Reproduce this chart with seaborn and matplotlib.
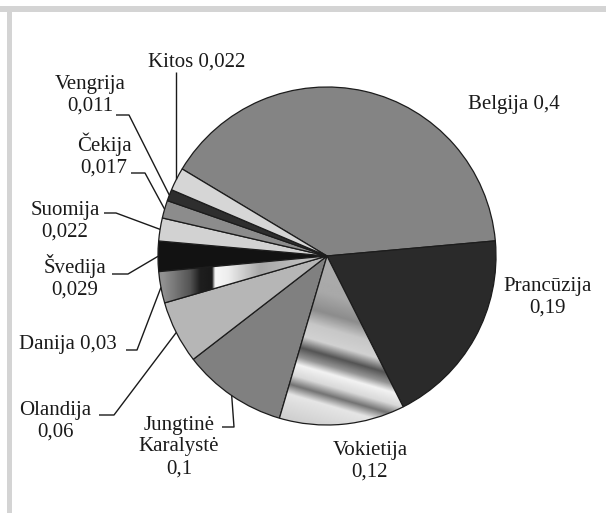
import numpy as np
import matplotlib
matplotlib.use("Agg")
import matplotlib.pyplot as plt
from matplotlib.patches import Rectangle
from matplotlib.colors import LinearSegmentedColormap
import seaborn as sns

# ---------------- data ----------------
countries = ["Belgija", "Prancūzija", "Vokietija", "Jungtinė\nKaralystė", "Olandija",
             "Danija", "Švedija", "Suomija", "Čekija", "Vengrija", "Kitos"]
values = [0.4, 0.19, 0.12, 0.1, 0.06, 0.03, 0.029, 0.022, 0.017, 0.011, 0.022]
value_labels = ["0,4", "0,19", "0,12", "0,1", "0,06", "0,03", "0,029", "0,022", "0,017", "0,011", "0,022"]
colors = ["#848484", "#2a2a2a", "#c4c4c4", "#808080", "#b6b6b6",
          "#909090", "#121212", "#d2d2d2", "#8c8c8c", "#2e2e2e", "#d6d6d6"]

# ---------------- layout ----------------
W, H = 606, 513
sns.set_theme(style="white")
plt.rcParams["font.family"] = ["Liberation Serif", "DejaVu Serif"]

fig = plt.figure(figsize=(W / 100, H / 100), dpi=100)
fig.patch.set_facecolor("white")
ax = fig.add_axes([0, 0, 1, 1])

def P(x, y):
    """image pixel coords -> data coords"""
    return x, H - y

CX, CY, R = 327, 256, 169
center = P(CX, CY)

wedges, _ = ax.pie(values, colors=colors, startangle=149, counterclock=False,
                   center=center, radius=R,
                   wedgeprops=dict(edgecolor="#1c1c1c", linewidth=0.9))
ax.set_xlim(0, W)
ax.set_ylim(0, H)
ax.set_aspect("equal")
ax.axis("off")

# ---- gradient fills (Vokietija, Danija) ----
def gradient_fill(wedge, img, extent):
    cmap = LinearSegmentedColormap.from_list("g", ["#000000", "#ffffff"])
    im = ax.imshow(img, cmap=cmap, vmin=0, vmax=1, extent=extent, origin="upper",
                   interpolation="bilinear", zorder=1.5, aspect="auto")
    im.set_clip_path(wedge)
    wedge.set_facecolor("none")
    wedge.set_zorder(2)

# Vokietija: diagonal metallic bands
xs = np.linspace(250, 430, 200)
ys = np.linspace(250, 440, 200)
XX, YY = np.meshgrid(xs, ys)
S = YY - 0.29 * (XX - 350)
stops = [250, 300, 320, 335, 350, 362, 372, 380, 392, 402, 412, 440]
vals = [0.68, 0.66, 0.55, 0.78, 0.82, 0.33, 0.58, 0.95, 0.85, 0.45, 0.90, 0.80]
gradient_fill(wedges[2], np.interp(S, stops, vals), (250, 430, H - 440, H - 250))

# Danija: horizontal cylinder-like gradient
xs = np.linspace(150, 340, 300)
ys = np.linspace(250, 320, 50)
XX, YY = np.meshgrid(xs, ys)
stops = [150, 163, 190, 200, 212, 215, 228, 260, 300, 340]
vals = [0.57, 0.57, 0.33, 0.12, 0.10, 0.97, 0.93, 0.66, 0.74, 0.74]
gradient_fill(wedges[5], np.interp(XX, stops, vals), (150, 340, H - 320, H - 250))

# ---------------- labels ----------------
FS = 15
txt = dict(fontsize=FS, color="#1a1a1a", ha="center", va="center", linespacing=1.2)

def edge_point(i):
    w = wedges[i]
    a = np.deg2rad((w.theta1 + w.theta2) / 2)
    return center[0] + R * np.cos(a), center[1] + R * np.sin(a)

# label text positions (image px)
label_pos = {
    0: (514, 104), 1: (548, 297), 2: (370, 461), 3: (179, 447), 4: (55, 421),
    5: (68, 345), 6: (75, 277), 7: (65, 221), 8: (104, 155), 9: (90, 95), 10: (197, 62),
}
one_line = {0, 5, 10}
for i, (x, y) in label_pos.items():
    name = countries[i]
    if i in one_line:
        s = f"{name} {value_labels[i]}"
    else:
        s = f"{name}\n{value_labels[i]}"
    ax.text(*P(x, y), s, **txt)

# leader lines: horizontal tick then to wedge
leaders = {
    9: [(116, 115), (129, 115)],
    8: [(131, 173), (145, 173)],
    7: [(104, 213), (116, 213)],
    6: [(112, 274), (128, 274)],
    5: [(126, 350), (137, 350)],
    4: [(99, 415), (114, 415)],
    3: [(222, 427), (234, 427)],
}
lk = dict(color="#1a1a1a", lw=1.0, solid_capstyle="butt", zorder=3)
for i, pts in leaders.items():
    ex, ey = edge_point(i)
    xs_ = [P(*p)[0] for p in pts] + [ex]
    ys_ = [P(*p)[1] for p in pts] + [ey]
    ax.plot(xs_, ys_, **lk)
ex, ey = edge_point(10)
ax.plot([ex, ex], [P(0, 72)[1], ey], **lk)

# ---------------- frame ----------------
fc = "#d4d4d4"
fig.patches.append(Rectangle((0, 1 - 12 / H), 1, 6 / H, transform=fig.transFigure,
                             facecolor=fc, edgecolor="none"))
fig.patches.append(Rectangle((7 / W, 0), 5 / W, 1 - 6 / H, transform=fig.transFigure,
                             facecolor=fc, edgecolor="none"))

fig.savefig("out.png", dpi=100, facecolor="white")
